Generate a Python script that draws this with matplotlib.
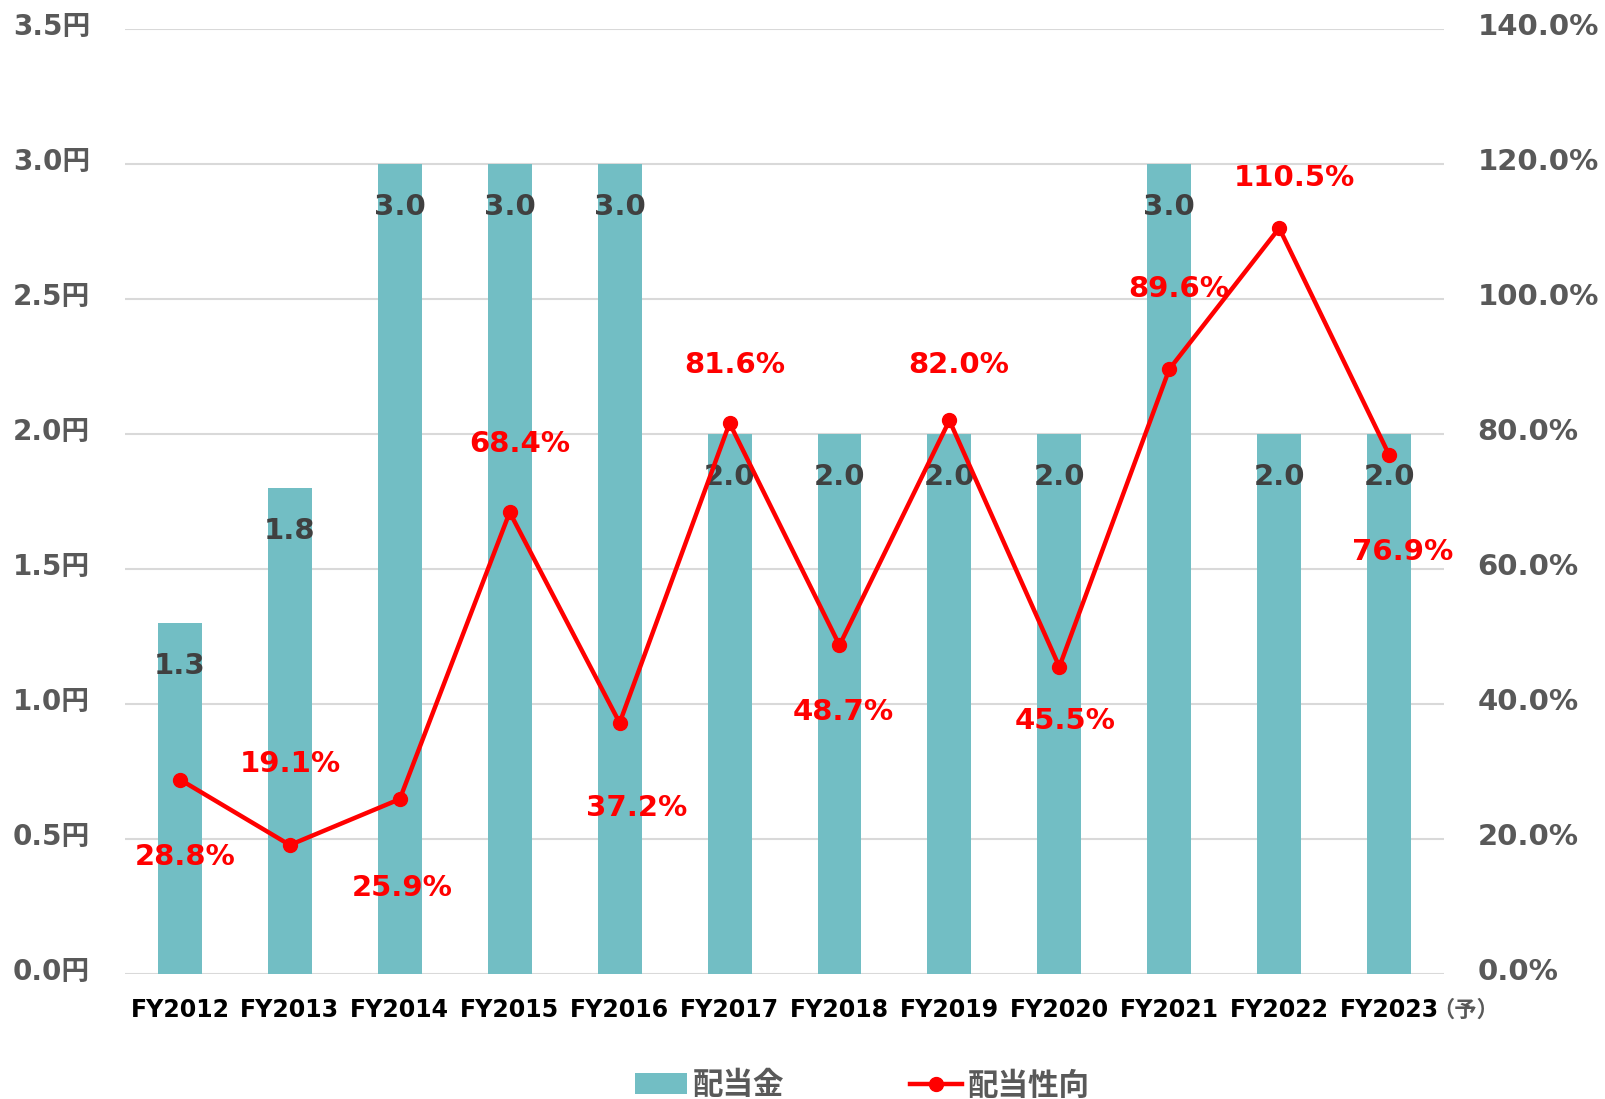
import numpy as np
import matplotlib
matplotlib.use("Agg")
import matplotlib.pyplot as plt
from matplotlib.lines import Line2D
from matplotlib.patches import Patch
from matplotlib.transforms import ScaledTranslation

plt.rcParams['font.family'] = ['DejaVu Sans', 'Noto Sans CJK JP']
plt.rcParams['font.weight'] = 'bold'

# data
years = ['FY2012', 'FY2013', 'FY2014', 'FY2015', 'FY2016', 'FY2017',
         'FY2018', 'FY2019', 'FY2020', 'FY2021', 'FY2022', 'FY2023']
dividend = [1.3, 1.8, 3.0, 3.0, 3.0, 2.0, 2.0, 2.0, 2.0, 3.0, 2.0, 2.0]
payout_ratio = [28.8, 19.1, 25.9, 68.4, 37.2, 81.6, 48.7, 82.0, 45.5, 89.6, 110.5, 76.9]
left_ticks = [0.0, 0.5, 1.0, 1.5, 2.0, 2.5, 3.0, 3.5]
right_ticks = [0, 20, 40, 60, 80, 100, 120, 140]

TEAL = '#72bec4'
RED = '#ff0000'
GRAY = '#595959'

# label offsets for the payout ratio labels (points)
label_offsets = [(4, -56), (0, 58), (2, -64), (7, 49), (12, -61), (4, 42),
                 (3, -48), (7, 40), (4, -39), (7, 58), (11, 36), (10, -70)]

fig = plt.figure(figsize=(16.06, 10.99), dpi=100)
ax = fig.add_axes([0.0778, 0.1138, 0.8214, 0.8598])
ax2 = ax.twinx()

x = np.arange(len(years))
ax.bar(x, dividend, width=0.4, color=TEAL, zorder=2)
for xi, v in zip(x, dividend):
    ax.annotate(f'{v:.1f}', (xi, v), xytext=(0, -31), textcoords='offset points',
                ha='center', va='center', fontsize=21, fontweight='bold',
                color='#404040', zorder=3)

ax.set_xlim(-0.5, len(years) - 0.5)
ax.set_ylim(0, 3.5)
ax.set_yticks(left_ticks)
ax.set_yticklabels([f'{t:.1f}円' for t in left_ticks], fontsize=20,
                   fontweight='bold', color=GRAY)
ax.set_xticks(x)
ax.set_xticklabels(years, fontsize=17, fontweight='bold', color='black')
ax.tick_params(axis='both', length=0)
ax.tick_params(axis='y', pad=25)
ax.tick_params(axis='x', pad=17)
ax.grid(axis='y', color='#d9d9d9', linewidth=1.5, zorder=0)
ax.set_axisbelow(True)
for s in ax.spines.values():
    s.set_visible(False)

ax.annotate('（予）', (len(years) - 1, 0), xytext=(31, -26),
            textcoords='offset points', ha='left', va='center',
            fontsize=16, fontweight='bold', color=GRAY,
            family=['Noto Sans CJK JP'])

ax2.plot(x, payout_ratio, color=RED, linewidth=3.2, marker='o',
         markersize=10, zorder=4)
for xi, v, off in zip(x, payout_ratio, label_offsets):
    ax2.annotate(f'{v:.1f}%', (xi, v), xytext=off, textcoords='offset points',
                 ha='center', va='center', fontsize=21, fontweight='bold',
                 color=RED)
ax2.set_ylim(0, 140)
ax2.set_yticks(right_ticks)
ax2.set_yticklabels([f'{t:.1f}%' for t in right_ticks], fontsize=21,
                    fontweight='bold', color=GRAY)
ax2.tick_params(axis='y', length=0, pad=24)
for s in ax2.spines.values():
    s.set_visible(False)

# tick labels sit a little above their gridlines
shift = ScaledTranslation(0, 3.5 / 72, fig.dpi_scale_trans)
for lbl in ax.get_yticklabels() + ax2.get_yticklabels():
    lbl.set_transform(lbl.get_transform() + shift)

handles = [Patch(facecolor=TEAL, edgecolor='none'),
           Line2D([0], [0], color=RED, linewidth=3.2, marker='o', markersize=10)]
fig.legend(handles, ['配当金', '配当性向'], loc='center', bbox_to_anchor=(0.537, 0.012),
           ncol=2, frameon=False, columnspacing=4.1, handlelength=1.7,
           handletextpad=0.2, prop={'size': 22, 'weight': 'bold'},
           labelcolor=GRAY)

fig.savefig('out.png', dpi=100)
